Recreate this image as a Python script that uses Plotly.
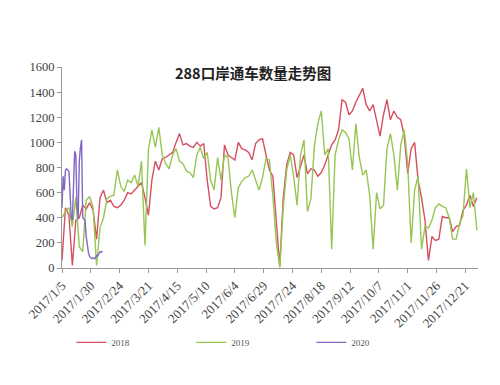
import pandas as pd
import plotly.graph_objects as go

TITLE = "288口岸通车数量走势图"
SERIES_NAMES = ["2018", "2019", "2020"]
COLORS = ["#d64f5f", "#96c653", "#8466c4"]

# 2018 & 2019: one value every 3 days starting 2017-01-05
VALUES_2018 = [60, 480, 420, 20, 380, 400, 500, 470, 520, 460,
               230, 560, 620, 520, 540, 490, 480, 500, 540, 600,
               590, 620, 650, 680, 560, 420, 700, 850, 780, 870,
               880, 900, 920, 1000, 1070, 980, 990, 970, 960, 1000,
               970, 990, 700, 490, 470, 480, 560, 980, 900, 880,
               860, 1000, 950, 940, 920, 860, 990, 1020, 1030, 900,
               780, 730, 400, 10, 560, 820, 920, 900, 720, 820,
               900, 750, 790, 780, 730, 760, 820, 900, 980, 1020,
               1100, 1340, 1320, 1220, 1250, 1320, 1380, 1430, 1300, 1250,
               1300, 1160, 1050, 1220, 1340, 1180, 1250, 1200, 1180, 1050,
               750, 950, 1000, 700, 560, 380, 60, 250, 220, 230,
               410, 400, 400, 290, 330, 340, 460, 500, 580, 490, 560]
VALUES_2019 = [400, 450, 480, 330, 560, 170, 130, 540, 570, 480,
               20, 320, 400, 550, 570, 580, 780, 650, 610, 700,
               680, 740, 650, 850, 180, 940, 1100, 960, 1120, 900,
               830, 790, 900, 950, 850, 830, 770, 760, 720, 900,
               960, 870, 920, 700, 620, 880, 700, 900, 880, 600,
               400, 640, 690, 720, 730, 780, 700, 620, 720, 870,
               860, 570, 200, 5, 480, 780, 900, 730, 500, 900,
               1020, 450, 550, 970, 1150, 1250, 900, 950, 150, 900,
               1020, 1100, 1080, 1030, 780, 1150, 880, 740, 780, 580,
               150, 600, 470, 500, 950, 1070, 900, 620, 980, 1100,
               830, 200, 620, 730, 150, 330, 320, 380, 480, 510,
               490, 480, 400, 230, 230, 350, 420, 790, 480, 600, 300]
# 2020: daily values starting 2017-01-05 (aligned by day of year)
VALUES_2020 = [480, 730, 620, 780, 790, 780, 770, 600, 400, 380,
               700, 930, 900, 500, 390, 850, 960, 1020, 400, 390,
               380, 250, 180, 120, 90, 80, 75, 80, 75, 80,
               100, 95, 110, 130, 125, 135]

START = "2017-01-05"
TICK_DATES = ["2017-01-05", "2017-01-30", "2017-02-24", "2017-03-21", "2017-04-15",
              "2017-05-10", "2017-06-04", "2017-06-29", "2017-07-24", "2017-08-18",
              "2017-09-12", "2017-10-07", "2017-11-01", "2017-11-26", "2017-12-21"]
TICK_TEXT = ["2017/1/5", "2017/1/30", "2017/2/24", "2017/3/21", "2017/4/15",
             "2017/5/10", "2017/6/4", "2017/6/29", "2017/7/24", "2017/8/18",
             "2017/9/12", "2017/10/7", "2017/11/1", "2017/11/26", "2017/12/21"]
Y_TICKS = [0, 200, 400, 600, 800, 1000, 1200, 1400, 1600]

d3 = pd.date_range(START, periods=len(VALUES_2018), freq="3D")
d1 = pd.date_range(START, periods=len(VALUES_2020), freq="D")

fig = go.Figure()
for name, x, y, c in [(SERIES_NAMES[0], d3, VALUES_2018, COLORS[0]),
                      (SERIES_NAMES[1], d3[:len(VALUES_2019)], VALUES_2019, COLORS[1]),
                      (SERIES_NAMES[2], d1, VALUES_2020, COLORS[2])]:
    fig.add_trace(go.Scatter(x=x, y=y, name=name, mode="lines",
                             line=dict(color=c, width=1.4)))

serif = "Liberation Serif, Times New Roman, serif"
fig.update_layout(
    width=492, height=377,
    margin=dict(l=54, r=22, t=59, b=117),
    paper_bgcolor="white", plot_bgcolor="white",
    showlegend=True,
    legend=dict(orientation="h", x=0.455, xanchor="center", y=-0.37, yanchor="middle",
                font=dict(family=serif, size=9, color="#555"),
                entrywidth=75, entrywidthmode="pixels"),
    annotations=[dict(text="<b>" + TITLE + "</b>", x=0.46, y=0.975, xref="paper", yref="paper",
                      xanchor="center", yanchor="middle", showarrow=False,
                      font=dict(family="Noto Sans CJK SC", size=14.5, color="#222"))],
)
fig.update_xaxes(type="date", range=["2017-01-05", "2018-01-01"],
                 tickvals=TICK_DATES, ticktext=TICK_TEXT, tickangle=-45,
                 showgrid=False, showline=True, linecolor="#999", linewidth=1,
                 ticks="outside", ticklen=4, tickcolor="#999",
                 tickfont=dict(family=serif, size=13, color="#444"), zeroline=False)
fig.update_yaxes(range=[0, 1600], tickvals=Y_TICKS, showgrid=False,
                 showline=True, linecolor="#999", linewidth=1,
                 ticks="outside", ticklen=4, tickcolor="#999",
                 tickfont=dict(family=serif, size=12.5, color="#444"), zeroline=False)

fig.write_html("out.html")
